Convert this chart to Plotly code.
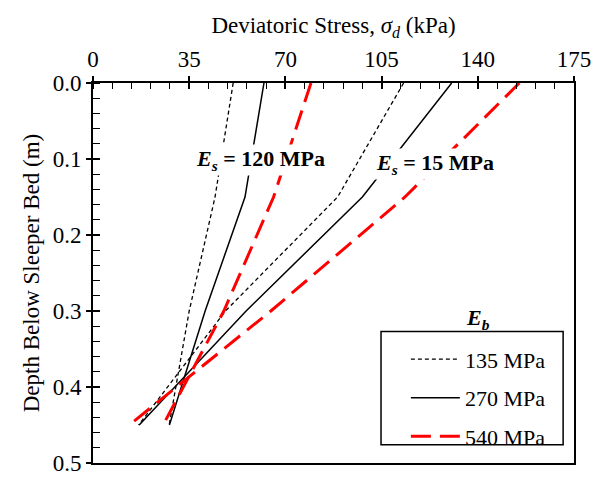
import plotly.graph_objects as go

# ---- data ----
depth = [0.0, 0.15, 0.30, 0.45]
es120_eb135 = [51.0, 44.4, 35.0, 27.7]
es120_eb270 = [62.2, 55.3, 40.8, 27.8]
es120_eb540 = [79.3, 65.7, 47.6, 25.5]
es15_eb135 = [113.0, 89.0, 48.2, 16.6]
es15_eb270 = [130.5, 98.0, 55.7, 16.8]
es15_eb540 = [155.1, 113.5, 64.7, 13.2]
legend_names = ["135 MPa", "270 MPa", "540 MPa"]
x_ticks = [0, 35, 70, 105, 140, 175]
y_ticks = [0.0, 0.1, 0.2, 0.3, 0.4, 0.5]

FONT = "Liberation Serif"
styles = [
    dict(color="black", width=1.3, dash="4px,3px"),
    dict(color="black", width=1.5, dash="solid"),
    dict(color="#ff0000", width=3, dash="20px,9px"),
]

fig = go.Figure()
series120 = [es120_eb135, es120_eb270, es120_eb540]
series15 = [es15_eb135, es15_eb270, es15_eb540]
for i in range(3):
    fig.add_trace(go.Scatter(x=series120[i], y=depth, mode="lines", line=styles[i],
                             name=legend_names[i], legendgroup=f"g{i}", showlegend=True))
    fig.add_trace(go.Scatter(x=series15[i], y=depth, mode="lines", line=styles[i],
                             name=legend_names[i], legendgroup=f"g{i}", showlegend=False))

# invisible trace to carry the overlay axes used for inward major ticks
fig.add_trace(go.Scatter(x=[], y=[], xaxis="x2", yaxis="y2", showlegend=False, hoverinfo="skip"))

axis_common = dict(showgrid=False, zeroline=False, showline=True, linecolor="black",
                   linewidth=2, mirror=True, tickcolor="black", tickwidth=1.5,
                   tickfont=dict(family=FONT, size=23, color="black"))

fig.update_layout(
    width=603, height=488,
    margin=dict(l=93, r=24, t=83, b=12),
    paper_bgcolor="white", plot_bgcolor="white",
    font=dict(family=FONT, size=22, color="black"),
    xaxis=dict(side="top", range=[0, 175], tickvals=x_ticks, ticks="outside", ticklen=5,
               minor=dict(ticks="inside", dtick=7, ticklen=6, tickcolor="black", tickwidth=1.2),
               title=dict(text="Deviatoric Stress, <i>σ<sub>d</sub></i> (kPa)",
                          font=dict(family=FONT, size=23), standoff=7),
               **axis_common),
    yaxis=dict(range=[0.5, 0], tickvals=y_ticks, tickformat=".1f", ticks="outside", ticklen=5,
               minor=dict(ticks="inside", dtick=0.02, ticklen=7, tickcolor="black", tickwidth=1.2),
               title=dict(text="Depth Below Sleeper Bed (m)", font=dict(family=FONT, size=23),
                          standoff=7),
               **axis_common),
    xaxis2=dict(overlaying="x", side="top", anchor="y2", range=[0, 175], tickvals=x_ticks,
                ticks="inside", ticklen=6, tickwidth=1.5, tickcolor="black",
                showticklabels=False, showgrid=False, zeroline=False, showline=False),
    yaxis2=dict(overlaying="y", side="left", anchor="x2", range=[0.5, 0], tickvals=y_ticks,
                ticks="inside", ticklen=7, tickwidth=1.5, tickcolor="black",
                showticklabels=False, showgrid=False, zeroline=False, showline=False),
    legend=dict(x=0.6505, y=0.328, xanchor="left", yanchor="top", bgcolor="rgba(0,0,0,0)",
                borderwidth=0, font=dict(family=FONT, size=22), itemwidth=49,
                tracegroupgap=7, traceorder="grouped"),
    showlegend=True,
)

fig.add_shape(type="rect", xref="paper", yref="paper", x0=0.5988, x1=0.9774, y0=0.0483, y1=0.346,
              line=dict(color="black", width=1.5), fillcolor="rgba(0,0,0,0)")

fig.add_annotation(x=61.1, y=0.101, xref="x", yref="y",
                   text="<b><i>E</i><sub><i>s</i></sub> = 120 MPa</b>", showarrow=False,
                   bgcolor="white", font=dict(family=FONT, size=22, color="black"))
fig.add_annotation(x=124.5, y=0.107, xref="x", yref="y",
                   text="<b><i>E</i><sub><i>s</i></sub> = 15 MPa</b>", showarrow=False,
                   bgcolor="white", font=dict(family=FONT, size=22, color="black"))
fig.add_annotation(x=140.0, y=0.310, xref="x", yref="y",
                   text="<b><i>E<sub>b</sub></i></b>", showarrow=False,
                   font=dict(family=FONT, size=22, color="black"))

fig.write_html("out.html")
